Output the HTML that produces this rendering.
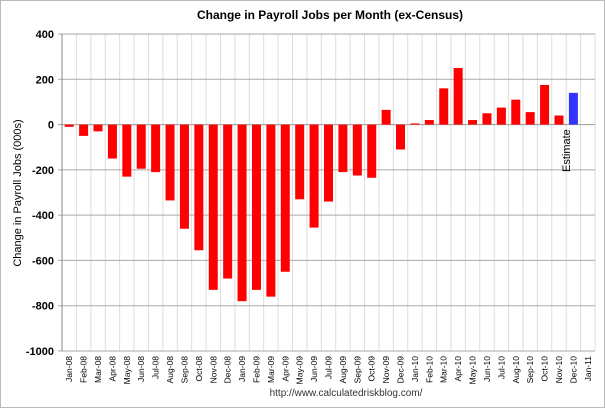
<!DOCTYPE html>
<html><head><meta charset="utf-8"><style>
html,body{margin:0;padding:0;background:#fff;}
svg{display:block;font-family:"Liberation Sans",Arial,sans-serif;}
</style></head><body>
<svg id="chart" width="605" height="408">
<rect x="0.5" y="0.5" width="604" height="407" fill="#fff" stroke="#bbb"/>
<text x="330" y="19" text-anchor="middle" font-size="12" font-weight="bold" fill="#000">Change in Payroll Jobs per Month (ex-Census)</text>
<text transform="translate(21,193) rotate(-90)" text-anchor="middle" font-size="11" fill="#000">Change in Payroll Jobs (000s)</text>
<text x="346" y="396" text-anchor="middle" font-size="10" fill="#333">http://www.calculatedriskblog.com/</text>
<g id="grid"></g><g id="bars"></g><g id="axes"></g>
<text transform="translate(570,172) rotate(-90)" font-size="11" fill="#000">Estimate</text>
</svg>
<script>
const categories=["Jan-08","Feb-08","Mar-08","Apr-08","May-08","Jun-08","Jul-08","Aug-08","Sep-08","Oct-08","Nov-08","Dec-08","Jan-09","Feb-09","Mar-09","Apr-09","May-09","Jun-09","Jul-09","Aug-09","Sep-09","Oct-09","Nov-09","Dec-09","Jan-10","Feb-10","Mar-10","Apr-10","May-10","Jun-10","Jul-10","Aug-10","Sep-10","Oct-10","Nov-10","Dec-10","Jan-11"];
const values=[-10,-50,-30,-150,-230,-195,-210,-335,-460,-555,-730,-680,-780,-730,-760,-650,-330,-455,-340,-210,-225,-235,65,-110,5,20,160,250,20,50,75,110,55,175,40,140];
const estimateIndex=[35];
const yTicks=[400,200,0,-200,-400,-600,-800,-1000];
const NS="http://www.w3.org/2000/svg";
const L=62,R=595,T=34,B=351,yMin=-1000,yMax=400;
const bw=(R-L)/categories.length;
const y=v=>T+(yMax-v)/(yMax-yMin)*(B-T);
const x=i=>L+bw*(i+0.5);
function mk(tag,a,p){const e=document.createElementNS(NS,tag);for(const k in a)e.setAttribute(k,a[k]);p.appendChild(e);return e;}
const grid=document.getElementById('grid'),bars=document.getElementById('bars'),axes=document.getElementById('axes');
for(let i=0;i<=categories.length;i++){const gx=L+bw*i;const g=mk('line',{x1:gx,x2:gx,y1:T,y2:B,stroke:'#ddd'},grid);

}
yTicks.forEach(t=>{const g=mk('line',{x1:L-4,x2:R,y1:y(t),y2:y(t),stroke:t===0?'#999':'#aaa'},grid);


const tx=mk('text',{x:L-8,y:y(t)+4,'text-anchor':'end','font-size':11,'font-weight':'bold',fill:'#000'},axes);tx.textContent=t;

});
mk('line',{x1:L,x2:L,y1:T,y2:B,stroke:'#888'},axes);
values.forEach((v,i)=>{const y0=y(0),y1=y(v);
const r=mk('rect',{x:x(i)-4.5,y:Math.min(y0,y1),width:9,height:Math.max(1,Math.abs(y1-y0)),fill:estimateIndex.includes(i)?'#3333ff':'#ff0000'},bars);

});
categories.forEach((c,i)=>{const t=mk('text',{transform:`translate(${x(i)+3},${B+5}) rotate(-90)`,'text-anchor':'end','font-size':8.5,fill:'#000'},axes);t.textContent=c;

});
</script>
</body></html>
